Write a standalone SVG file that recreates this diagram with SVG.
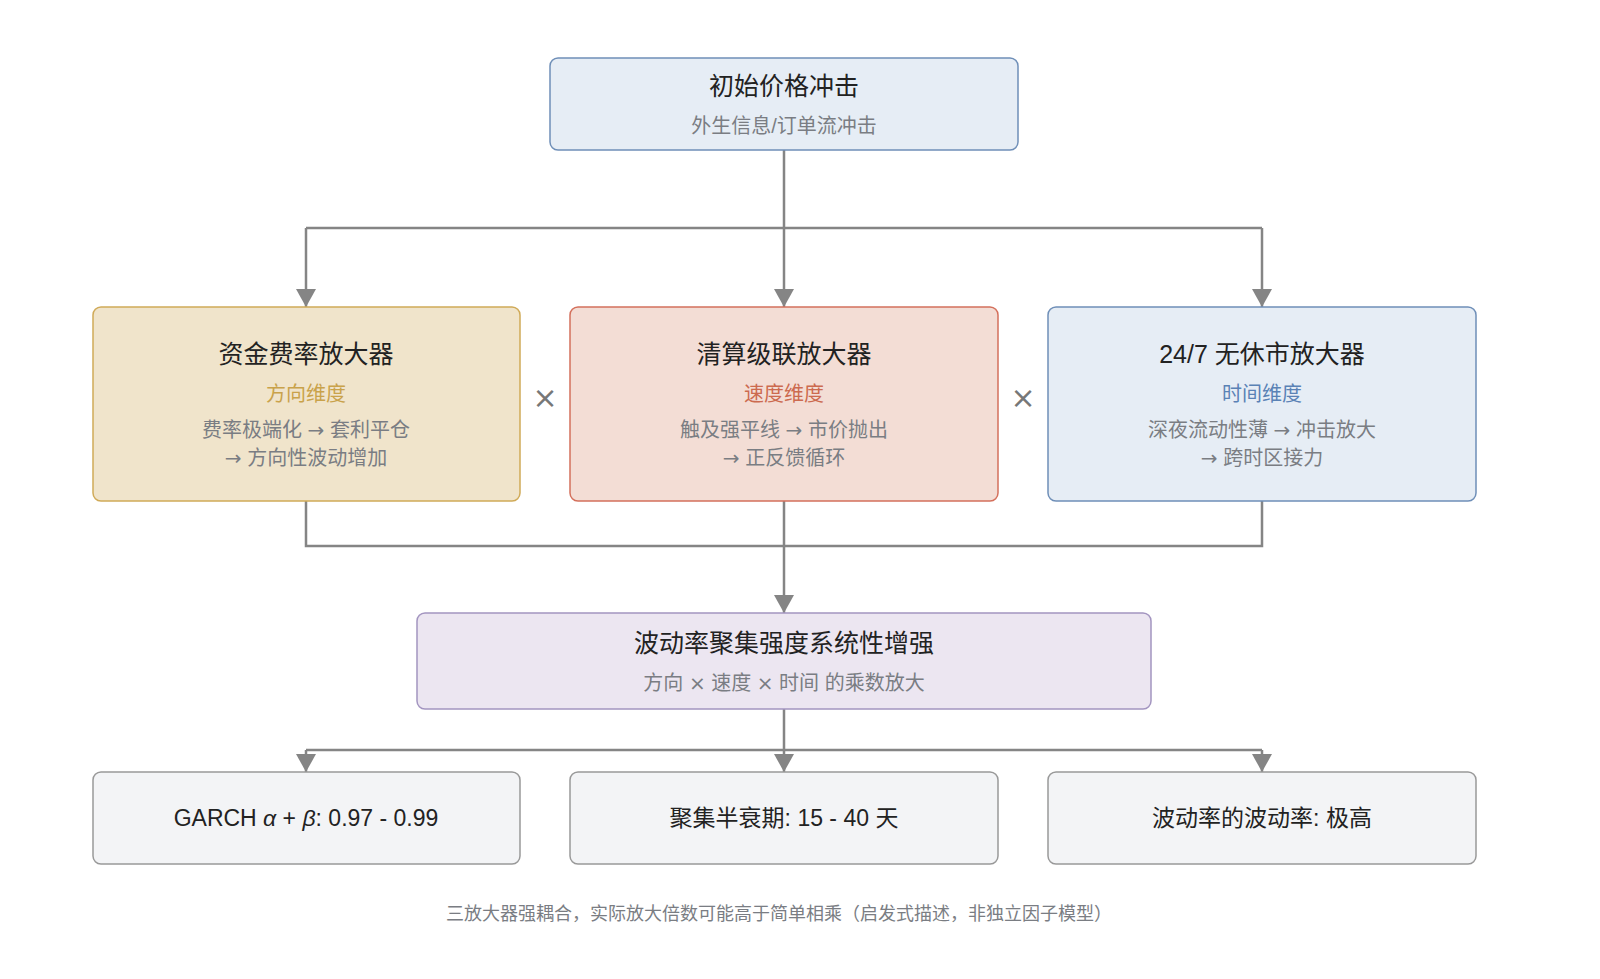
<svg xmlns="http://www.w3.org/2000/svg" width="1600" height="979" viewBox="0 0 1600 979">
<style>
text{font-family:"Liberation Sans","Noto Sans CJK SC",sans-serif;text-anchor:middle}
.t{font-size:25px;fill:#222}
.s{font-size:20px;fill:#7a7d83}
.c{stroke:#858585;stroke-width:2.5;fill:none}
.b{font-size:23px;fill:#222}
.r{font-family:"DejaVu Sans",sans-serif}
</style>
<defs>
<marker id="ar" viewBox="0 0 20 18" markerWidth="20" markerHeight="18" refX="10" refY="18" orient="0" markerUnits="userSpaceOnUse"><path d="M0 0 L20 0 L10 18 Z" fill="#858585"/></marker></defs>
<rect width="1600" height="979" fill="#fff"/>
<g id="connectors">
<path class="c" d="M784 150 V228 M306 228 H1262"/>
<path class="c" marker-end="url(#ar)" d="M306 228 V307"/>
<path class="c" marker-end="url(#ar)" d="M784 228 V307"/>
<path class="c" marker-end="url(#ar)" d="M1262 228 V307"/>
<path class="c" d="M306 501 V546 H1262 V501 M784 501 V546"/>
<path class="c" marker-end="url(#ar)" d="M784 546 V613"/>
<path class="c" d="M784 709 V750 M306 750 H1262"/>
<path class="c" marker-end="url(#ar)" d="M306 750 V772"/>
<path class="c" marker-end="url(#ar)" d="M784 750 V772"/>
<path class="c" marker-end="url(#ar)" d="M1262 750 V772"/>
</g>
<g id="top"><rect x="550" y="58" width="468" height="92" rx="8" fill="#e6edf5" stroke="#6f8fb8" stroke-width="1.5"/>
<text class="t" x="784" y="95">初始价格冲击</text><text class="s" x="784" y="133">外生信息/订单流冲击</text></g>
<g id="funding"><rect x="93" y="307" width="427" height="194" rx="8" fill="#f0e4cb" stroke="#d0aa58" stroke-width="1.5"/>
<text class="t" x="306" y="363">资金费率放大器</text><text class="s" x="306" y="401" style="fill:#c9a24a">方向维度</text>
<text class="s" x="306" y="437">费率极端化 <tspan class="r">→</tspan> 套利平仓</text><text class="s" x="306" y="465"><tspan class="r">→</tspan> 方向性波动增加</text></g>
<g id="liq"><rect x="570" y="307" width="428" height="194" rx="8" fill="#f3ddd5" stroke="#d4705c" stroke-width="1.5"/>
<text class="t" x="784" y="363">清算级联放大器</text><text class="s" x="784" y="401" style="fill:#cc6a4f">速度维度</text>
<text class="s" x="784" y="437">触及强平线 <tspan class="r">→</tspan> 市价抛出</text><text class="s" x="784" y="465"><tspan class="r">→</tspan> 正反馈循环</text></g>
<g id="n247"><rect x="1048" y="307" width="428" height="194" rx="8" fill="#e6edf5" stroke="#6f8fb8" stroke-width="1.5"/>
<text class="t" x="1262" y="363">24/7 无休市放大器</text><text class="s" x="1262" y="401" style="fill:#5a82b5">时间维度</text>
<text class="s" x="1262" y="437">深夜流动性薄 <tspan class="r">→</tspan> 冲击放大</text><text class="s" x="1262" y="465"><tspan class="r">→</tspan> 跨时区接力</text></g>
<text x="545" y="408" class="r" style="font-size:30px;fill:#777">×</text>
<text x="1023" y="408" class="r" style="font-size:30px;fill:#777">×</text>
<g id="cluster"><rect x="417" y="613" width="734" height="96" rx="8" fill="#ece6f1" stroke="#a395c0" stroke-width="1.5"/>
<text class="t" x="784" y="652">波动率聚集强度系统性增强</text><text class="s" x="784" y="690">方向 <tspan class="r">×</tspan> 速度 <tspan class="r">×</tspan> 时间 的乘数放大</text></g>
<g id="garch"><rect x="93" y="772" width="427" height="92" rx="8" fill="#f3f4f6" stroke="#999" stroke-width="1.5"/>
<text class="b" x="306" y="826">GARCH  <tspan font-style="italic">α</tspan> + <tspan font-style="italic">β</tspan>: 0.97 - 0.99</text></g>
<g id="half"><rect x="570" y="772" width="428" height="92" rx="8" fill="#f3f4f6" stroke="#999" stroke-width="1.5"/>
<text class="b" x="784" y="826">聚集半衰期: 15 - 40 天</text></g>
<g id="vov"><rect x="1048" y="772" width="428" height="92" rx="8" fill="#f3f4f6" stroke="#999" stroke-width="1.5"/>
<text class="b" x="1262" y="826">波动率的波动率: 极高</text></g>
<text x="779" y="920" style="font-size:18px;fill:#7a7d83">三放大器强耦合，实际放大倍数可能高于简单相乘（启发式描述，非独立因子模型）</text>
</svg>
